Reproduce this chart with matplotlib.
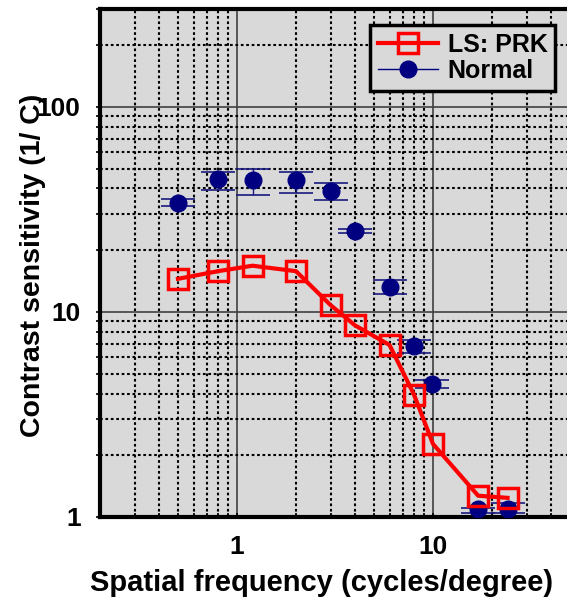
import matplotlib
matplotlib.use("Agg")
import matplotlib.pyplot as plt
from matplotlib.lines import Line2D
from matplotlib.ticker import LogLocator, NullFormatter
import numpy as np

plt.rcParams['font.family'] = ['Liberation Sans', 'DejaVu Sans']
plt.rcParams['font.weight'] = 'bold'

# Data
freq_prk = [0.5, 0.8, 1.2, 2, 3, 4, 6, 8, 10, 17, 24]
cs_prk = [14.5, 15.8, 16.8, 15.8, 10.8, 8.6, 6.9, 3.95, 2.27, 1.27, 1.24]

freq_normal = [0.5, 0.8, 1.2, 2, 3, 4, 6, 8, 9.9, 17, 24]
cs_normal = [34.0, 44.5, 44.0, 44.0, 39.0, 24.9, 13.2, 6.8, 4.45, 1.09, 1.1]
normal_lo = [32.9, 39.5, 37.0, 38.0, 35.0, 24.2, 12.2, 6.3, 4.27, 1.05, 1.05]
normal_hi = [35.5, 48.0, 50.0, 48.0, 42.5, 25.4, 14.3, 7.3, 4.65, 1.11, 1.17]

x_ticks = [1, 10]
x_ticklabels = ["1", "10"]
y_ticks = [1, 10, 100]
y_ticklabels = ["1", "10", "100"]

fig = plt.figure(figsize=(5.67, 6.02), dpi=100)
W, H = 567, 602
ax = fig.add_axes([100 / W, (H - 517) / H, 470 / W, 508 / H])
ax.set_facecolor('#d9d9d9')
ax.set_xscale('log')
ax.set_yscale('log')
ax.set_xlim(0.2, 50)
ax.set_ylim(1, 300)

# grid
ax.xaxis.set_minor_locator(LogLocator(base=10, subs=np.arange(2, 10)))
ax.yaxis.set_minor_locator(LogLocator(base=10, subs=np.arange(2, 10)))
ax.xaxis.set_minor_formatter(NullFormatter())
ax.yaxis.set_minor_formatter(NullFormatter())
ax.grid(True, which='major', color='#404040', linestyle='-', linewidth=1.2, zorder=0)
ax.grid(True, which='minor', color='black', linestyle=(0, (1.3, 1.3)), linewidth=1.5, zorder=0)
ax.set_axisbelow(True)

ax.set_xticks(x_ticks)
ax.set_xticklabels(x_ticklabels)
ax.set_yticks(y_ticks)
ax.set_yticklabels(y_ticklabels)
ax.tick_params(axis='both', which='both', labelsize=19, width=1.2)
ax.tick_params(axis='x', which='both', direction='in', length=3, pad=13)
ax.tick_params(axis='y', which='both', direction='out', length=3, pad=11)

for side in ['left', 'bottom', 'top']:
    ax.spines[side].set_linewidth(3)
    ax.spines[side].set_color('black')
ax.spines['right'].set_visible(False)

# Normal with error bars
yerr = [np.array(cs_normal) - np.array(normal_lo), np.array(normal_hi) - np.array(cs_normal)]
ax.errorbar(freq_normal, cs_normal, yerr=yerr, fmt='none', ecolor='#1a1a80',
            elinewidth=1.0, capsize=12, capthick=1.2, zorder=3)
ax.plot(freq_normal, cs_normal, linestyle='none', marker='o', markersize=12,
        color='#000080', zorder=4)

# LS: PRK
ax.plot(freq_prk, cs_prk, color='#ff0000', linewidth=3, marker='s', markersize=15,
        markerfacecolor='none', markeredgecolor='#ff0000', markeredgewidth=2.5, zorder=5)

ax.set_xlabel('Spatial frequency (cycles/degree)', fontsize=21, fontweight='bold')
ax.set_ylabel('Contrast sensitivity (1/ C)', fontsize=20.5, fontweight='bold')
ax.xaxis.set_label_coords((322 - 100) / 470, (517 - 569) / 508)
ax.yaxis.set_label_coords((46 - 100) / 470, (517 - 265) / 508)

handles = [
    Line2D([0], [0], color='#ff0000', linewidth=3, marker='s', markersize=15,
           markerfacecolor='none', markeredgecolor='#ff0000', markeredgewidth=2.5),
    Line2D([0], [0], color='#000080', linewidth=1, marker='o', markersize=12),
]
leg = ax.legend(handles, ['LS: PRK', 'Normal'], loc='upper right',
                bbox_to_anchor=((555 - 100) / 470, (517 - 25) / 508),
                prop={'size': 18, 'weight': 'bold'}, frameon=True, fancybox=False,
                edgecolor='black', facecolor='#d9d9d9', framealpha=1,
                handlelength=2.4, handletextpad=0.4, borderpad=0.3,
                labelspacing=0.1, borderaxespad=0)
leg.get_frame().set_linewidth(2.5)

fig.savefig('out.png', dpi=100)
